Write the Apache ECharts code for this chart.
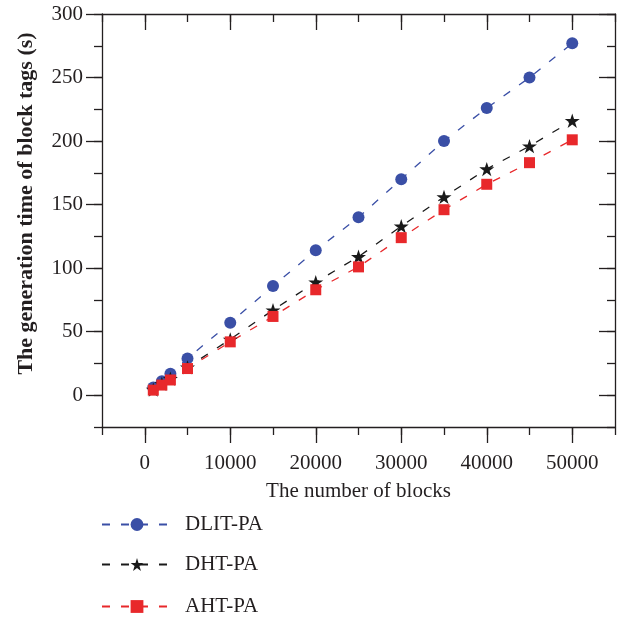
<!DOCTYPE html>
<html>
<head>
<meta charset="utf-8">
<script src="https://cdn.jsdelivr.net/npm/echarts@6/dist/echarts.min.js"></script>
<style>
html,body{margin:0;padding:0;background:#fff;}
#chart{width:623px;height:620px;}
</style>
</head>
<body>
<div id="chart"></div>
<script>
var blocks = [1000, 2000, 3000, 5000, 10000, 15000, 20000, 25000, 30000, 35000, 40000, 45000, 50000];
var dlitPA = [6, 11, 17, 29, 57, 86, 114, 140, 170, 200, 226, 250, 277];
var dhtPA  = [4.5, 9, 13, 22, 44, 67, 89, 109, 133, 156, 178, 196, 216];
var ahtPA  = [4, 8, 12, 21, 42, 62, 83, 101, 124, 146, 166, 183, 201];
var xMajorTicks = [0, 10000, 20000, 30000, 40000, 50000];
var yMajorTicks = [0, 50, 100, 150, 200, 250, 300];
var seriesNames = ['DLIT-PA', 'DHT-PA', 'AHT-PA'];

var FONT = '"Liberation Serif", "Times New Roman", serif';
var AX = '#231f20';
var starPath = 'path://M50 0 L61.23 34.55 L97.55 34.55 L68.17 55.9 L79.39 90.45 L50 69.1 L20.61 90.45 L31.83 55.9 L2.45 34.55 L38.77 34.55 Z';

function pairs(xs, ys){ return xs.map(function(x,i){ return [x, ys[i]]; }); }
function plain(v){ return String(v); }

var xBase = {type:'value', min:-5000, max:55000, splitLine:{show:false}};
var yBase = {type:'value', min:-25, max:300, splitLine:{show:false}};
function ext(a,b){ var o={}; for(var k in a)o[k]=a[k]; for(var k2 in b)o[k2]=b[k2]; return o; }

var legendTops = [514, 554, 596];
var legends = seriesNames.map(function(n, i){
  return {orient:'vertical', left:101, top:legendTops[i], padding:0, itemWidth:70, itemHeight:16,
    data:[n], textStyle:{fontFamily:FONT, fontSize:21, color:AX, padding:[0,0,0,8]}};
});

var chart = echarts.init(document.getElementById('chart'));
chart.setOption({
  backgroundColor:'#fff',
  animation:false,
  grid:{left:102, right:8, top:14, bottom:193, containLabel:false},
  xAxis:[
    ext(xBase,{position:'bottom', name:'The number of blocks', nameLocation:'middle', nameGap:54,
      nameTextStyle:{fontFamily:FONT, fontSize:21, color:AX},
      axisLine:{show:true, onZero:false, lineStyle:{color:AX, width:1.3}},
      axisTick:{show:true, inside:false, length:16, customValues:xMajorTicks, lineStyle:{color:AX, width:1.3}},
      axisLabel:{show:true, margin:26, customValues:xMajorTicks, formatter:plain, fontFamily:FONT, fontSize:21, color:AX}}),
    ext(xBase,{position:'bottom', interval:5000,
      axisLine:{show:false, onZero:false}, axisTick:{show:true, length:8, lineStyle:{color:AX, width:1.3}}, axisLabel:{show:false}}),
    ext(xBase,{position:'top',
      axisLine:{show:true, onZero:false, lineStyle:{color:AX, width:1.3}},
      axisTick:{show:true, inside:true, length:16, customValues:xMajorTicks, lineStyle:{color:AX, width:1.3}},
      axisLabel:{show:false}}),
    ext(xBase,{position:'top', interval:5000,
      axisLine:{show:false, onZero:false}, axisTick:{show:true, inside:true, length:8, lineStyle:{color:AX, width:1.3}}, axisLabel:{show:false}})
  ],
  yAxis:[
    ext(yBase,{position:'left', name:'The generation time of block tags (s)', nameLocation:'middle', nameGap:65,
      nameTextStyle:{fontFamily:FONT, fontSize:22, fontWeight:'bold', color:AX, padding:[0,0,0,34]},
      axisLine:{show:true, onZero:false, lineStyle:{color:AX, width:1.3}},
      axisTick:{show:true, inside:false, length:16, customValues:yMajorTicks, lineStyle:{color:AX, width:1.3}},
      axisLabel:{show:true, margin:19, customValues:yMajorTicks, formatter:plain, fontFamily:FONT, fontSize:21, color:AX}}),
    ext(yBase,{position:'left', interval:25,
      axisLine:{show:false, onZero:false}, axisTick:{show:true, length:8, lineStyle:{color:AX, width:1.3}}, axisLabel:{show:false}}),
    ext(yBase,{position:'right',
      axisLine:{show:true, onZero:false, lineStyle:{color:AX, width:1.3}},
      axisTick:{show:true, inside:true, length:16, customValues:yMajorTicks, lineStyle:{color:AX, width:1.3}},
      axisLabel:{show:false}}),
    ext(yBase,{position:'right', interval:25,
      axisLine:{show:false, onZero:false}, axisTick:{show:true, inside:true, length:8, lineStyle:{color:AX, width:1.3}}, axisLabel:{show:false}})
  ],
  legend:legends,
  series:[
    {name:seriesNames[0], type:'line', data:pairs(blocks, dlitPA), symbol:'circle', symbolSize:12,
      itemStyle:{color:'#3a4fa6'}, lineStyle:{color:'#3a4fa6', width:1.3, type:[8,11]}},
    {name:seriesNames[1], type:'line', data:pairs(blocks, dhtPA), symbol:starPath, symbolSize:15, symbolKeepAspect:true,
      itemStyle:{color:'#1a1a1a'}, lineStyle:{color:'#1a1a1a', width:1.3, type:[8,11]}},
    {name:seriesNames[2], type:'line', data:pairs(blocks, ahtPA), symbol:'rect', symbolSize:11,
      itemStyle:{color:'#e8282b'}, lineStyle:{color:'#e8282b', width:1.3, type:[8,11]}}
  ]
});
</script>
</body>
</html>
